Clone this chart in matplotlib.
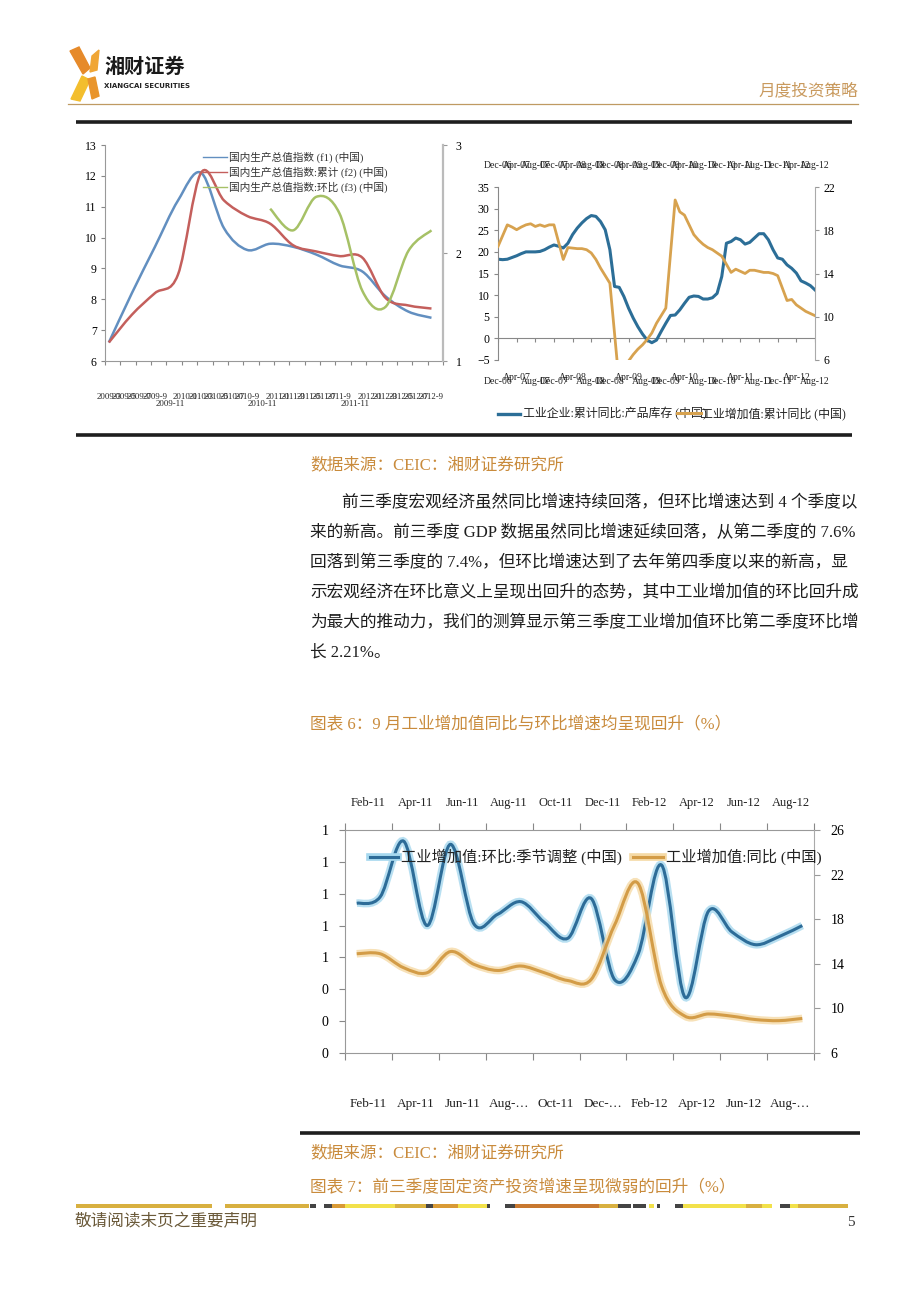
import numpy as np
import matplotlib
matplotlib.use("Agg")
import matplotlib.pyplot as plt
from matplotlib.path import Path
from matplotlib.patches import PathPatch, Polygon, Rectangle
from matplotlib.ticker import FormatStrFormatter
from matplotlib.transforms import blended_transform_factory

plt.rcParams['font.family'] = ['Liberation Serif', 'Noto Sans CJK SC', 'DejaVu Sans']

# ---------------- data: chart 1 (GDP index, quarterly on a monthly axis 2009-3 .. 2012-9)
c1_labels = ['2009-3', '2009-5', '2009-7', '2009-9', '2009-11', '2010-1', '2010-3', '2010-5',
             '2010-7', '2010-9', '2010-11', '2011-1', '2011-3', '2011-5', '2011-7', '2011-9',
             '2011-11', '2012-1', '2012-3', '2012-5', '2012-7', '2012-9']
gdp_pos = [0, 3, 6, 9, 12, 15, 18, 21, 24, 27, 30, 33, 36, 39, 42]
gdp_f1 = [6.6, 8.2, 9.7, 11.2, 12.1, 10.3, 9.6, 9.8, 9.7, 9.45, 9.1, 8.9, 8.1, 7.6, 7.4]
gdp_f2 = [6.6, 7.5, 8.2, 8.8, 12.1, 11.2, 10.7, 10.45, 9.75, 9.55, 9.4, 9.35, 8.05, 7.8, 7.7]
gdp_f3_pos = [21, 24, 27, 30, 33, 36, 39, 42]
gdp_f3 = [2.41, 2.21, 2.52, 2.37, 1.65, 1.5, 2.02, 2.21]
c1_legend = ['国内生产总值指数 (f1) (中国)', '国内生产总值指数:累计 (f2) (中国)',
             '国内生产总值指数:环比 (f3) (中国)']

# ---------------- data: chart 2 (monthly Dec-06 .. Aug-12)
c2_labels = ['Dec-06', 'Apr-07', 'Aug-07', 'Dec-07', 'Apr-08', 'Aug-08', 'Dec-08', 'Apr-09',
             'Aug-09', 'Dec-09', 'Apr-10', 'Aug-10', 'Dec-10', 'Apr-11', 'Aug-11', 'Dec-11',
             'Apr-12', 'Aug-12']
inventory = [18.3, 18.2, 18.3, 18.7, 19.1, 19.6, 20.0, 20.0, 20.0, 20.1, 20.5, 21.1, 21.6,
             21.3, 20.9, 22.0, 24.0, 25.5, 26.7, 27.7, 28.4, 28.2, 27.0, 25.1, 20.5, 12.0,
             11.8, 9.7, 7.0, 4.7, 2.7, 1.0, -0.4, -1.0, -0.4, 1.6, 3.5, 5.3, 5.4, 6.6, 8.1,
             9.5, 9.8, 9.7, 9.1, 9.1, 9.4, 10.4, 14.3, 22.0, 22.4, 23.2, 22.8, 21.8, 22.2,
             23.2, 24.2, 24.2, 22.8, 20.5, 18.6, 18.3, 17.0, 16.2, 15.1, 13.3, 12.8, 12.2, 11.2]
ip_cum = [16.5, None, 18.5, 18.3, 18.05, 18.3, 18.5, 18.6, 18.35, 18.5, 18.35, 18.5, 18.5,
          None, 15.3, 16.4, 16.35, 16.3, 16.3, 16.2, 15.9, 15.3, 14.5, 13.8, 13.1, None,
          3.8, 5.1, 5.9, 6.5, 7.0, 7.4, 7.9, 8.5, 9.4, 10.1, 10.8, None, 20.8, 19.7, 19.4,
          18.5, 17.6, 17.1, 16.7, 16.4, 16.2, 15.9, 15.6, None, 14.1, 14.4, 14.2, 14.0,
          14.3, 14.3, 14.2, 14.1, 14.1, 14.0, 13.8, None, 11.5, 11.6, 11.1, 10.8, 10.5,
          10.3, 10.1]
c2_legend = ['工业企业:累计同比:产品库存 (中国)', '工业增加值:累计同比 (中国)']

# ---------------- data: chart 3 (monthly Feb-11 .. Sep-12)
c3_months = ['Feb-11', 'Mar-11', 'Apr-11', 'May-11', 'Jun-11', 'Jul-11', 'Aug-11', 'Sep-11',
             'Oct-11', 'Nov-11', 'Dec-11', 'Jan-12', 'Feb-12', 'Mar-12', 'Apr-12', 'May-12',
             'Jun-12', 'Jul-12', 'Aug-12', 'Sep-12']
c3_top = ['Feb-11', 'Apr-11', 'Jun-11', 'Aug-11', 'Oct-11', 'Dec-11', 'Feb-12', 'Apr-12',
          'Jun-12', 'Aug-12']
c3_bottom = ['Feb-11', 'Apr-11', 'Jun-11', 'Aug-…', 'Oct-11', 'Dec-…', 'Feb-12', 'Apr-12',
             'Jun-12', 'Aug-…']
ip_mom = [0.94, 0.98, 1.33, 0.80, 1.31, 0.81, 0.87, 0.95, 0.82, 0.72, 0.97, 0.46, 0.62,
          1.18, 0.35, 0.89, 0.76, 0.68, 0.73, 0.80]
ip_yoy = [14.9, 14.9, 13.65, 13.2, 15.1, 13.95, 13.4, 13.8, 13.2, 12.5, 12.6, 17.5, 21.2,
          12.0, 9.3, 9.5, 9.3, 9.0, 8.9, 9.1]
c3_legend = ['工业增加值:环比:季节调整 (中国)', '工业增加值:同比 (中国)']

W, H = 920, 1302
ORANGE_TXT = '#C98B3C'


def box(x0, y0, x1, y1):
    return [x0 / W, 1 - y1 / H, (x1 - x0) / W, (y1 - y0) / H]


def smooth_path(xs, ys):
    # Excel-like smoothed line: Catmull-Rom segments through the data points
    pts = np.column_stack([xs, ys]).astype(float)
    n = len(pts)
    verts = [pts[0]]
    codes = [Path.MOVETO]
    for i in range(n - 1):
        p0 = pts[i - 1] if i > 0 else pts[i]
        p1, p2 = pts[i], pts[i + 1]
        p3 = pts[i + 2] if i + 2 < n else pts[i + 1]
        verts += [p1 + (p2 - p0) / 6, p2 - (p3 - p1) / 6, p2]
        codes += [Path.CURVE4] * 3
    return Path(verts, codes)


fig = plt.figure(figsize=(9.2, 13.02), dpi=100)
page = fig.add_axes([0, 0, 1, 1])
page.set_xlim(0, W)
page.set_ylim(H, 0)
page.axis('off')

# ---------------- header
page.add_patch(Polygon([(70, 51), (79, 47), (90, 68), (83, 74)], color='#E68A2A'))
page.add_patch(Polygon([(71, 99), (80, 101), (90, 80), (82, 76)], color='#F3BE2E'))
page.add_patch(Polygon([(92, 56), (99, 50), (97, 70), (90, 72)], color='#F0A635'))
page.add_patch(Polygon([(88, 79), (95, 77), (99, 96), (92, 99)], color='#E9952C'))
page.text(104, 66, '湘财证券', fontsize=14.5, fontweight='bold', va='center', ha='left',
          color='#1a1a1a', family=['Noto Sans CJK SC'])
page.text(104, 86, 'XIANGCAI SECURITIES', fontsize=5, fontweight='bold', va='center',
          ha='left', color='#222', family=['Liberation Sans Narrow', 'DejaVu Sans'])
page.text(858, 91, '月度投资策略', fontsize=12, color='#C99A5E', ha='right', va='center',
          family=['Noto Sans CJK SC'])
page.plot([68, 858], [104, 104], color='#BF9A62', lw=0.9)

# ---------------- rules
for x0, x1, y in [(76, 852, 122), (76, 852, 435), (300, 860, 1133)]:
    page.plot([x0, x1], [y, y], color='#1e1e1e', lw=2.6, solid_capstyle='butt')

# ---------------- chart 1
ax1 = fig.add_axes(box(105, 145, 443, 361))
ax1.set_xlim(-0.5, 42.5)
ax1.set_ylim(6, 13)
ax1.set_yticks(range(6, 14))
ax1.set_xticks(np.arange(len(c1_labels) + 1) * 2 - 0.5)
ax1.set_xticklabels([])
ax1.tick_params(direction='out', length=3, color='#888', labelsize=8.5, pad=3)
for s in ['top', 'right']:
    ax1.spines[s].set_visible(False)
for s in ['left', 'bottom']:
    ax1.spines[s].set_color('#999')
ax1r = ax1.twinx()
ax1r.set_ylim(1, 3)
ax1r.set_yticks([1, 2, 3])
ax1r.tick_params(direction='out', length=3, color='#999', labelsize=8.5, pad=6)
for s in ['top', 'left', 'bottom']:
    ax1r.spines[s].set_visible(False)
ax1r.spines['right'].set_color('#bbb')
ax1r.spines['right'].set_linewidth(1.6)

c1_blue, c1_red, c1_green = '#628FC0', '#C45F5C', '#A6C166'
ax1.add_patch(PathPatch(smooth_path(gdp_pos, gdp_f1), fc='none', ec=c1_blue, lw=1.8))
ax1.add_patch(PathPatch(smooth_path(gdp_pos, gdp_f2), fc='none', ec=c1_red, lw=1.8))
ax1r.add_patch(PathPatch(smooth_path(gdp_f3_pos, gdp_f3), fc='none', ec=c1_green, lw=1.8))

tr1 = blended_transform_factory(ax1.transData, page.transData)
for i, lab in enumerate(c1_labels):
    yy = 404 if lab.endswith('-11') else 397
    ax1.text(i * 2, yy, lab, transform=tr1, ha='center', va='center', fontsize=6.3,
             clip_on=False, color='#222')

# legend drawn on the top twin axes so it sits above the plot background
for k, (lab, col) in enumerate(zip(c1_legend, [c1_blue, c1_red, c1_green])):
    y = 157 + 15 * k
    ax1r.plot([203, 227], [y, y], color=col, lw=1.0, transform=page.transData, clip_on=False)
    ax1r.text(229, y, lab, fontsize=7.7, va='center', ha='left', color='#333',
              transform=page.transData, clip_on=False)

# ---------------- chart 2
ax2 = fig.add_axes(box(498, 187, 815, 360))
ax2.set_xlim(0, 68)
ax2.set_ylim(-5, 35)
ax2.set_yticks(range(-5, 36, 5))
ax2.set_xticks([])
ax2.tick_params(direction='out', length=3, color='#888', labelsize=8.5, pad=3)
for s in ['top', 'right', 'bottom']:
    ax2.spines[s].set_visible(False)
ax2.spines['left'].set_color('#888')
ax2r = ax2.twinx()
ax2r.set_ylim(6, 22)
ax2r.set_yticks(range(6, 23, 4))
ax2r.tick_params(direction='out', length=3, color='#999', labelsize=8.5, pad=3)
for s in ['top', 'left', 'bottom']:
    ax2r.spines[s].set_visible(False)
ax2r.spines['right'].set_color('#aaa')

c2_ticks = np.arange(len(c2_labels)) * 4
ax2.axhline(0, color='#888', lw=0.8)
ax2.vlines(c2_ticks, -0.9, 0, color='#888', lw=0.8)
months2 = np.arange(len(inventory))
c2_blue, c2_orange = '#2C6E97', '#D7A24F'
ax2.plot(months2, inventory, color=c2_blue, lw=2.2, solid_joinstyle='round')
ox = [m for m, v in zip(months2, ip_cum) if v is not None]
oy = [v for v in ip_cum if v is not None]
ax2r.plot(ox, oy, color=c2_orange, lw=2.0, solid_joinstyle='round')

tr2 = blended_transform_factory(ax2.transData, page.transData)
for x, lab in zip(c2_ticks, c2_labels):
    ax2.text(x, 165, lab, transform=tr2, ha='center', va='center', fontsize=7,
             clip_on=False, color='#222')
    yb = 377 if lab.startswith('Apr') else 381
    ax2.text(x, yb, lab, transform=tr2, ha='center', va='center', fontsize=7,
             clip_on=False, color='#222')

page.plot([498, 520], [414, 414], color=c2_blue, lw=2.4)
page.text(523, 414, c2_legend[0], fontsize=8.6, va='center', ha='left', color='#222')
page.text(701, 414, c2_legend[1], fontsize=8.6, va='center', ha='left', color='#222')
page.plot([677, 701], [413, 413], color=c2_orange, lw=2.2, zorder=5)

# ---------------- text block
page.text(310, 465, '数据来源：CEIC：湘财证券研究所', fontsize=12, color=ORANGE_TXT,
          va='center', ha='left')
body = ['前三季度宏观经济虽然同比增速持续回落，但环比增速达到 4 个季度以',
        '来的新高。前三季度 GDP 数据虽然同比增速延续回落，从第二季度的 7.6%',
        '回落到第三季度的 7.4%，但环比增速达到了去年第四季度以来的新高，显',
        '示宏观经济在环比意义上呈现出回升的态势，其中工业增加值的环比回升成',
        '为最大的推动力，我们的测算显示第三季度工业增加值环比第二季度环比增',
        '长 2.21%。']
for k, line in enumerate(body):
    page.text(342 if k == 0 else 310, 503 + 30 * k, line, fontsize=12.0, color='#1e1e1e',
              va='center', ha='left')
page.text(310, 725, '图表 6：9 月工业增加值同比与环比增速均呈现回升（%）', fontsize=12,
          color=ORANGE_TXT, va='center', ha='left')

# ---------------- chart 3
ax3 = fig.add_axes(box(345, 830, 814, 1053))
ax3.set_xlim(-0.5, 19.5)
ax3.set_ylim(0, 1.4)
ax3.set_yticks(np.arange(8) * 0.2)
ax3.yaxis.set_major_formatter(FormatStrFormatter('%.0f'))
ax3.set_xticks(np.arange(0, len(c3_months) + 1, 2) - 0.5)
ax3.set_xticklabels([])
ax3.tick_params(axis='x', direction='out', length=5, color='#888', top=True)
ax3.tick_params(axis='y', direction='out', length=4, color='#888', labelsize=10, pad=8)
for s in ['left', 'bottom', 'top']:
    ax3.spines[s].set_color('#999')
ax3.spines['right'].set_visible(False)
ax3r = ax3.twinx()
ax3r.set_ylim(6, 26)
ax3r.set_yticks(range(6, 27, 4))
ax3r.tick_params(direction='out', length=4, color='#999', labelsize=10, pad=8)
for s in ['top', 'left', 'bottom']:
    ax3r.spines[s].set_visible(False)
ax3r.spines['right'].set_color('#aaa')

c3_x = np.arange(len(c3_months))
c3_blue, c3_blue_glow = '#2D6C98', '#A6D8EE'
c3_orange, c3_orange_glow = '#D39C47', '#F5DAA6'
ax3.add_patch(PathPatch(smooth_path(c3_x, ip_mom), fc='none', ec=c3_blue_glow, lw=5.5,
                        alpha=0.8))
ax3.add_patch(PathPatch(smooth_path(c3_x, ip_mom), fc='none', ec=c3_blue, lw=2.2))
ax3r.add_patch(PathPatch(smooth_path(c3_x, ip_yoy), fc='none', ec=c3_orange_glow, lw=5.5,
                         alpha=0.8))
ax3r.add_patch(PathPatch(smooth_path(c3_x, ip_yoy), fc='none', ec=c3_orange, lw=2.2))

tr3 = blended_transform_factory(ax3.transData, page.transData)
for i, (lt, lb) in enumerate(zip(c3_top, c3_bottom)):
    ax3.text(2 * i + 0.5, 803, lt, transform=tr3, ha='center', va='center', fontsize=9,
             clip_on=False, color='#222')
    ax3.text(2 * i + 0.5, 1104, lb, transform=tr3, ha='center', va='center', fontsize=9.5,
             clip_on=False, color='#222')

# legend on the top twin axes
for (x0, x1, xt), lab, col, glow in zip([(370, 398, 401), (633, 663, 666)], c3_legend,
                                        [c3_blue, c3_orange], [c3_blue_glow, c3_orange_glow]):
    ax3r.plot([x0, x1], [857, 857], color=glow, lw=5.5, transform=page.transData,
              clip_on=False)
    ax3r.plot([x0, x1], [857, 857], color=col, lw=2.2, transform=page.transData,
              clip_on=False)
    ax3r.text(xt, 857, lab, fontsize=11, va='center', ha='left', color='#222',
              transform=page.transData, clip_on=False)

# ---------------- footer
page.text(310, 1153, '数据来源：CEIC：湘财证券研究所', fontsize=12, color=ORANGE_TXT,
          va='center', ha='left')
page.text(310, 1188, '图表 7：前三季度固定资产投资增速呈现微弱的回升（%）', fontsize=12,
          color=ORANGE_TXT, va='center', ha='left')
bar = [(76, 212, '#D8B040'), (225, 309, '#D8B040'), (310, 316, '#444'), (324, 332, '#444'),
       (332, 345, '#D99A35'), (345, 395, '#F2E14A'), (395, 426, '#D8B040'),
       (426, 433, '#444'), (433, 458, '#D99A35'), (458, 487, '#F2E14A'), (487, 490, '#444'),
       (505, 515, '#444'), (515, 599, '#C8782F'), (599, 618, '#D8B040'), (618, 631, '#444'),
       (633, 646, '#444'), (649, 654, '#F2E14A'), (657, 660, '#444'), (675, 683, '#444'),
       (683, 746, '#F2E14A'), (746, 762, '#D8B040'), (762, 772, '#F2E14A'),
       (780, 790, '#444'), (790, 798, '#F2E14A'), (798, 848, '#D8B040')]
for x0, x1, col in bar:
    page.add_patch(Rectangle((x0, 1204), x1 - x0, 4, color=col, lw=0))
page.text(75, 1222, '敬请阅读末页之重要声明', fontsize=12, color='#6B5A3A', va='center',
          ha='left')
page.text(851, 1222, '5', fontsize=11, color='#333', va='center', ha='center')

fig.savefig('out.png', dpi=100)
